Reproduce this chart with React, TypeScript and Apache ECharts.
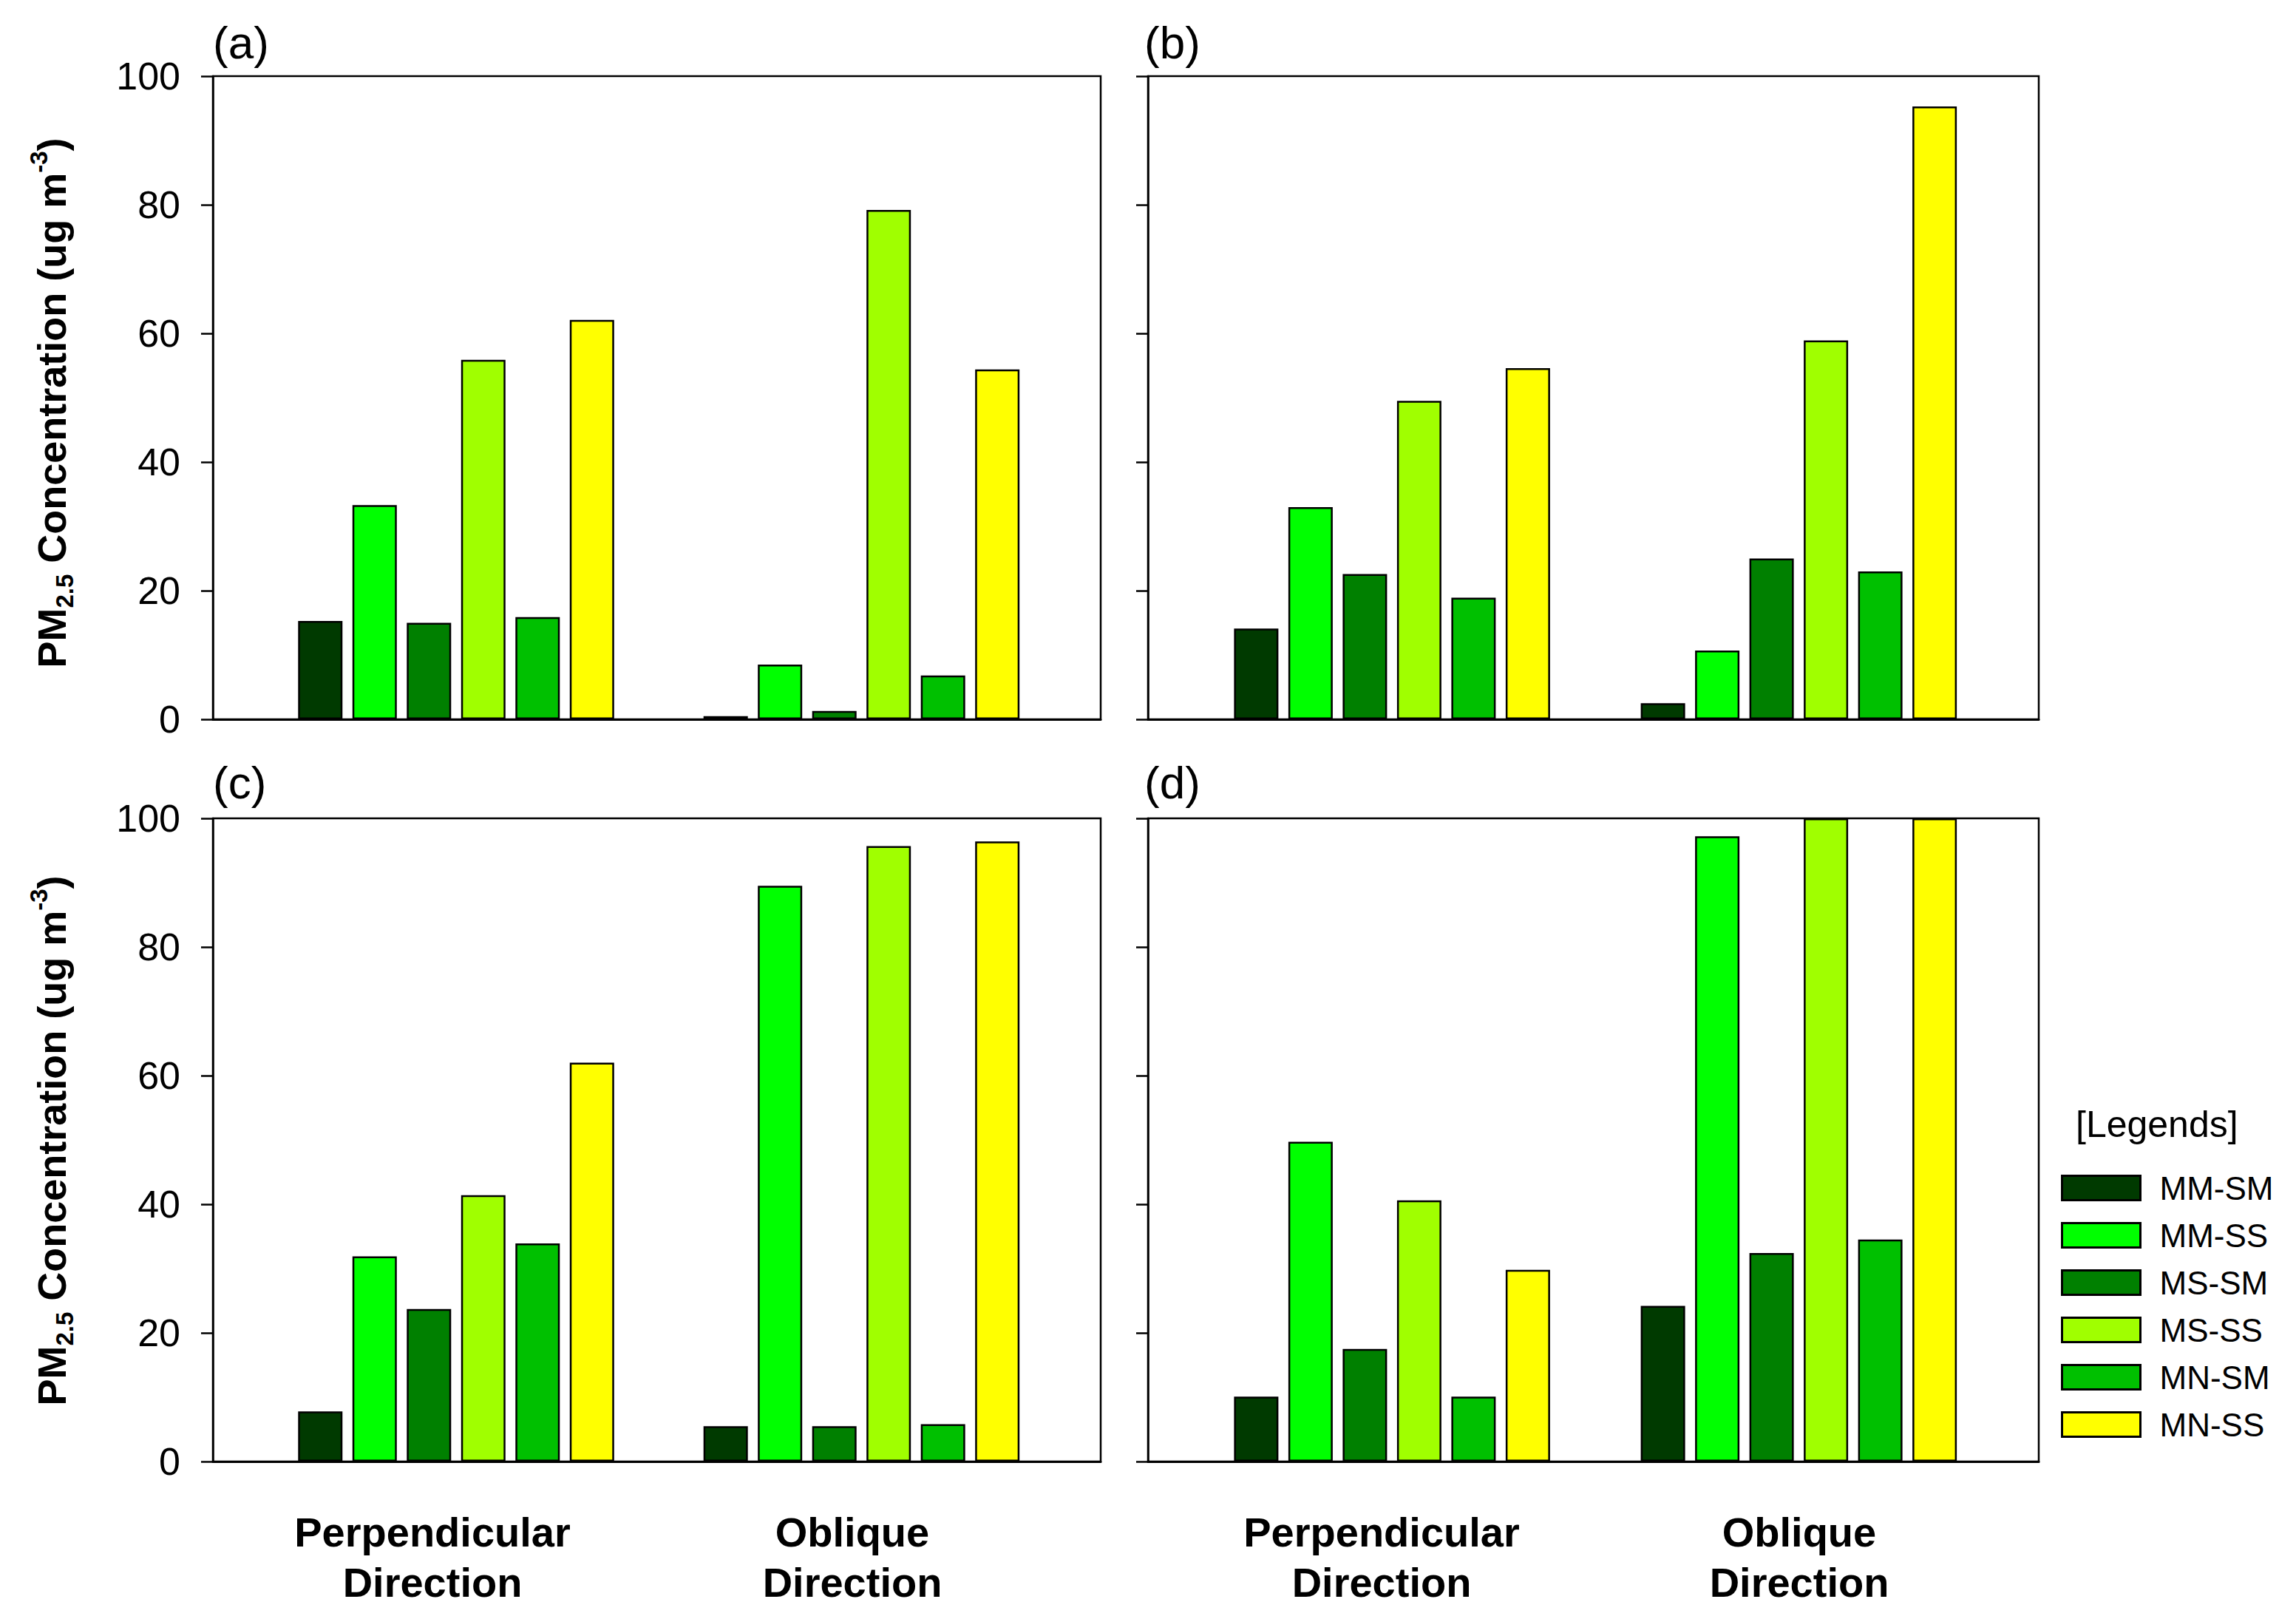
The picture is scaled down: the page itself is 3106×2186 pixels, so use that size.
import React, { useEffect, useRef } from "react";
import * as echarts from "echarts";

// ---- data ----
const categories = ["Perpendicular\nDirection", "Oblique\nDirection"];
const seriesNames = ["MM-SM", "MM-SS", "MS-SM", "MS-SS", "MN-SM", "MN-SS"];
const seriesColors = ["#003a00", "#00ff00", "#008000", "#a0ff00", "#00c000", "#ffff00"];
const panelLabels = ["(a)", "(b)", "(c)", "(d)"];
const yTicks = [0, 20, 40, 60, 80, 100];

// values per panel: [MM-SM, MM-SS, MS-SM, MS-SS, MN-SM, MN-SS]
const panelAPerp = [15.3, 33.3, 15.0, 55.9, 15.9, 62.1];
const panelAObl = [0.5, 8.5, 1.3, 79.2, 6.8, 54.4];
const panelBPerp = [14.1, 33.0, 22.6, 49.5, 18.9, 54.6];
const panelBObl = [2.5, 10.7, 25.0, 58.9, 23.0, 95.3];
const panelCPerp = [7.8, 31.9, 23.7, 41.4, 33.9, 62.0];
const panelCObl = [5.5, 89.5, 5.5, 95.7, 5.8, 96.4];
const panelDPerp = [10.1, 49.7, 17.5, 40.6, 10.1, 29.8];
const panelDObl = [24.2, 97.2, 32.4, 100, 34.5, 100];

const panels = [
  [panelAPerp, panelAObl],
  [panelBPerp, panelBObl],
  [panelCPerp, panelCObl],
  [panelDPerp, panelDObl],
];

const FONT = "'Liberation Sans', Arial, sans-serif";

export default function App() {
  const ref = useRef<HTMLDivElement>(null);

  useEffect(() => {
    if (!ref.current) return;
    const chart = echarts.init(ref.current, undefined, { renderer: "svg" });

    const grids = [
      { left: 288, top: 103, width: 1201, height: 870 },
      { left: 1553, top: 103, width: 1205, height: 870 },
      { left: 288, top: 1107, width: 1201, height: 870 },
      { left: 1553, top: 1107, width: 1205, height: 870 },
    ].map((g) => ({
      ...g,
      show: true,
      borderColor: "#000",
      borderWidth: 2.5,
      backgroundColor: "transparent",
      containLabel: false,
    }));

    const xAxes = grids.map((_, i) => ({
      type: "value",
      gridIndex: i,
      min: 0.4,
      max: 2.59,
      axisLine: { show: true, lineStyle: { color: "#000", width: 3 } },
      axisTick: { show: false },
      axisLabel: { show: false },
      splitLine: { show: false },
    }));

    const yAxes = grids.map((_, i) => ({
      type: "value",
      gridIndex: i,
      min: yTicks[0],
      max: yTicks[yTicks.length - 1],
      interval: 20,
      axisLine: { show: true, lineStyle: { color: "#000", width: 2.5 } },
      axisTick: { show: true, inside: false, length: 16, lineStyle: { color: "#000", width: 2.5 } },
      axisLabel: {
        show: i % 2 === 0,
        fontSize: 52,
        fontFamily: FONT,
        color: "#000",
        margin: 44,
      },
      splitLine: { show: false },
    }));

    const series: any[] = [];
    panels.forEach((pv, p) => {
      seriesNames.forEach((name, s) => {
        series.push({
          type: "bar",
          name,
          xAxisIndex: p,
          yAxisIndex: p,
          barWidth: 60,
          barGap: "22.5%",
          data: pv.map((vals, c) => [c + 1, vals[s]]),
          itemStyle: { color: seriesColors[s], borderColor: "#000", borderWidth: 2.5 },
        });
      });
    });

    const panelPos = [
      [288, 57],
      [1548, 57],
      [288, 1058],
      [1548, 1058],
    ];
    const catPos = [
      [585, 1153],
      [1869, 2434],
    ];

    const titleRich = {
      b: { fontSize: 54, fontWeight: "bold", fontFamily: FONT, lineHeight: 68, color: "#000" },
      s: { fontSize: 33, fontWeight: "bold", fontFamily: FONT, lineHeight: 35, verticalAlign: "bottom", color: "#000" },
      p: { fontSize: 33, fontWeight: "bold", fontFamily: FONT, lineHeight: 35, verticalAlign: "top", color: "#000" },
    };
    const titleText = "{b|PM}{s|2.5}{b| Concentration (ug m}{p|-3}{b|)}";

    const graphics: any[] = [];
    panelLabels.forEach((t, i) => {
      graphics.push({
        type: "text",
        x: panelPos[i][0],
        y: panelPos[i][1],
        style: { text: t, fontSize: 62, fontFamily: FONT, fill: "#000", align: "left", verticalAlign: "middle" },
      });
    });
    [545, 1543].forEach((cy) => {
      graphics.push({
        type: "text",
        x: 70,
        y: cy,
        rotation: Math.PI / 2,
        style: { text: titleText, rich: titleRich, align: "center", verticalAlign: "middle" },
      });
    });
    catPos.forEach((row) => {
      row.forEach((cx, c) => {
        graphics.push({
          type: "text",
          x: cx,
          y: 2106,
          style: {
            text: categories[c],
            fontSize: 56,
            fontWeight: "bold",
            fontFamily: FONT,
            lineHeight: 68,
            fill: "#000",
            align: "center",
            verticalAlign: "middle",
          },
        });
      });
    });
    graphics.push({
      type: "text",
      x: 2808,
      y: 1521,
      style: { text: "[Legends]", fontSize: 50, fontFamily: FONT, fill: "#000", align: "left", verticalAlign: "middle" },
    });

    chart.setOption({
      animation: false,
      backgroundColor: "#fff",
      grid: grids,
      xAxis: xAxes,
      yAxis: yAxes,
      series,
      legend: {
        data: seriesNames,
        orient: "vertical",
        left: 2788,
        top: 1585,
        padding: 0,
        itemWidth: 106,
        itemHeight: 33,
        itemGap: 20,
        icon: "rect",
        selectedMode: false,
        itemStyle: { borderColor: "#000", borderWidth: 3 },
        textStyle: { fontSize: 44, fontFamily: FONT, color: "#000", lineHeight: 33, padding: [0, 0, 0, 21] },
      },
      graphic: graphics,
    });

    return () => chart.dispose();
  }, []);

  return (
    <div
      ref={ref}
      style={{ position: "absolute", left: 0, top: 0, width: 3106, height: 2186 }}
    />
  );
}
